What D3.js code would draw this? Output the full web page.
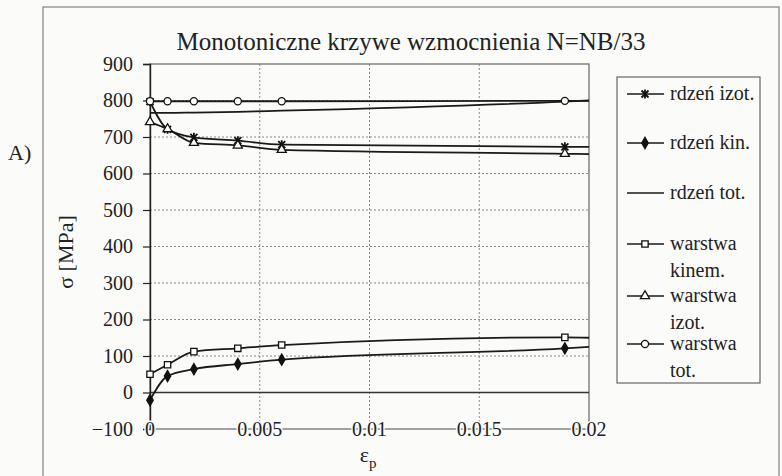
<!DOCTYPE html>
<html>
<head>
<meta charset="utf-8">
<script src="https://cdn.jsdelivr.net/npm/d3@7"></script>
<style>
  body { margin: 0; background: #fbfbf9; }
</style>
</head>
<body>
<div id="chart"></div>
<script>
// data
var epsP = [0, 0.0008, 0.002, 0.004, 0.006, 0.0189, 0.02];   // last point = line end, no marker
var rdzenIzot  = [797, 721, 699, 690, 679, 673, 673];
var rdzenKin   = [-21, 45, 64, 78, 90, 121, 125];
var rdzenTot   = [766, 766, 767, 769, 772, 797, 800];
var warstwaKin = [50, 76, 112, 121, 130, 151, 150];
var warstwaIzo = [741, 722, 684, 677, 665, 654, 653];
var warstwaTot = [798, 798, 798, 798, 798, 799, 799];
var markedPoints = 6;

var yTicks = [-100, 0, 100, 200, 300, 400, 500, 600, 700, 800, 900];
var xTicks = [0, 0.005, 0.01, 0.015, 0.02];
var xTickText = ["0", "0.005", "0.01", "0.015", "0.02"];

var series = [
  { name: ["rdzeń izot."], values: rdzenIzot, mark: "star" },
  { name: ["rdzeń kin."], values: rdzenKin, mark: "diamond" },
  { name: ["rdzeń tot."], values: rdzenTot, mark: "none" },
  { name: ["warstwa", "kinem."], values: warstwaKin, mark: "square" },
  { name: ["warstwa", "izot."], values: warstwaIzo, mark: "triangle" },
  { name: ["warstwa", "tot."], values: warstwaTot, mark: "circle" }
];

var FONT = "'Liberation Serif'";
function serif(sel, size) {
  return sel.style("font-family", FONT).style("font-size", size + "px").style("fill", "#222");
}

var svgWidth = 782, svgHeight = 476;
var svg = d3.select("#chart").append("svg")
  .attr("width", svgWidth)
  .attr("height", svgHeight);

var x = d3.scaleLinear().domain([0, 0.02]).range([150, 589]);
var y = d3.scaleLinear().domain([-100, 900]).range([429, 64]);

// outer frame of the chart object
svg.append("rect")
  .attr("x", 43).attr("y", 7)
  .attr("width", 736).attr("height", 480)
  .attr("fill", "none").attr("stroke", "#8a8a8a").attr("stroke-width", 1.3);

svg.append("text").attr("x", 8).attr("y", 160).text("A)").call(serif, 22);

// title
svg.append("text")
  .attr("x", 411).attr("y", 50)
  .attr("text-anchor", "middle")
  .text("Monotoniczne krzywe wzmocnienia N=NB/33")
  .call(serif, 25);

// gridlines
svg.append("g").selectAll("line.h")
  .data(yTicks.filter(d => d != 0 && d != 900 && d != -100))
  .enter().append("line")
  .attr("x1", x(0)).attr("x2", x(0.02))
  .attr("y1", d => y(d)).attr("y2", d => y(d))
  .attr("stroke", "#888").attr("stroke-width", 1)
  .attr("stroke-dasharray", "2,2");
svg.append("g").selectAll("line.v")
  .data([0.005, 0.01, 0.015])
  .enter().append("line")
  .attr("x1", d => x(d)).attr("x2", d => x(d))
  .attr("y1", y(900)).attr("y2", y(-100))
  .attr("stroke", "#888").attr("stroke-width", 1)
  .attr("stroke-dasharray", "2,2");

// plot area border
svg.append("rect")
  .attr("x", x(0)).attr("y", y(900))
  .attr("width", x(0.02) - x(0)).attr("height", y(-100) - y(900))
  .attr("fill", "none").attr("stroke", "#666").attr("stroke-width", 1.2);

// x axis line at 0
svg.append("line")
  .attr("x1", x(0)).attr("x2", x(0.02))
  .attr("y1", y(0)).attr("y2", y(0))
  .attr("stroke", "#333").attr("stroke-width", 1.4);

// y axis
var leftAxis = d3.axisLeft(y).tickValues(yTicks).tickSize(7).tickPadding(10);
var gy = svg.append("g").attr("transform", `translate(${x(0)},0)`).call(leftAxis);
gy.select(".domain").attr("stroke", "#222").attr("stroke-width", 1.4);
gy.selectAll(".tick line").attr("stroke", "#222").attr("stroke-width", 1.2);
gy.selectAll(".tick text").call(serif, 20);

// x tick labels sit on the bottom border
svg.append("g").selectAll("text")
  .data(xTicks)
  .enter().append("text")
  .attr("x", d => x(d)).attr("y", 436)
  .attr("text-anchor", "middle")
  .style("paint-order", "stroke")
  .style("stroke", "#fbfbf9").style("stroke-width", "3px")
  .text((d, i) => xTickText[i])
  .call(serif, 20);

// axis titles
svg.append("text")
  .attr("transform", "translate(73,252) rotate(-90)")
  .attr("text-anchor", "middle")
  .text("σ [MPa]")
  .call(serif, 22);
var xl = svg.append("text").attr("x", 368).attr("y", 462)
  .attr("text-anchor", "middle").call(serif, 22);
xl.append("tspan").text("ε");
xl.append("tspan").attr("dy", 6).style("font-size", "15px").text("p");

// markers
function markPath(kind) {
  if (kind == "star") return "M-3.5,-3.5L3.5,3.5M-3.5,3.5L3.5,-3.5M0,-4.5L0,4.5";
  if (kind == "diamond") return d3.symbol(d3.symbolDiamond, 36)();
  if (kind == "square") return d3.symbol(d3.symbolSquare, 40)();
  if (kind == "triangle") return d3.symbol(d3.symbolTriangle, 36)();
  if (kind == "circle") return d3.symbol(d3.symbolCircle, 40)();
  return null;
}
function styleMark(sel, kind) {
  sel.attr("d", markPath(kind))
    .attr("stroke", "#111")
    .attr("stroke-width", kind == "star" ? 1.8 : 1.3)
    .attr("fill", kind == "diamond" ? "#111" : (kind == "star" ? "none" : "#fff"));
}

var line = d3.line()
  .x((d, i) => x(epsP[i]))
  .y(d => y(d))
  .curve(d3.curveMonotoneX);

series.forEach(s => {
  svg.append("path")
    .datum(s.values)
    .attr("d", line)
    .attr("fill", "none")
    .attr("stroke", "#1a1a1a")
    .attr("stroke-width", 1.8);
});
series.forEach(s => {
  if (s.mark == "none") return;
  svg.append("g").selectAll("path")
    .data(s.values.slice(0, markedPoints))
    .enter().append("path")
    .attr("transform", (d, i) => `translate(${x(epsP[i])},${y(d)})`)
    .call(styleMark, s.mark);
});

// legend
svg.append("rect")
  .attr("x", 617).attr("y", 77).attr("width", 143).attr("height", 306)
  .attr("fill", "none").attr("stroke", "#666").attr("stroke-width", 1.2);
var legendY = [94, 143, 193, 244, 296, 344];
series.forEach((s, i) => {
  var g = svg.append("g").attr("transform", `translate(0,${legendY[i]})`);
  g.append("line").attr("x1", 627).attr("x2", 664)
    .attr("stroke", "#1a1a1a").attr("stroke-width", 1.6);
  if (s.mark != "none") {
    g.append("path").attr("transform", "translate(645,0)").call(styleMark, s.mark);
  }
  s.name.forEach((t, j) => {
    g.append("text").attr("x", 670).attr("y", 6 + j * 27)
      .text(t).call(serif, 20);
  });
});
</script>
</body>
</html>
